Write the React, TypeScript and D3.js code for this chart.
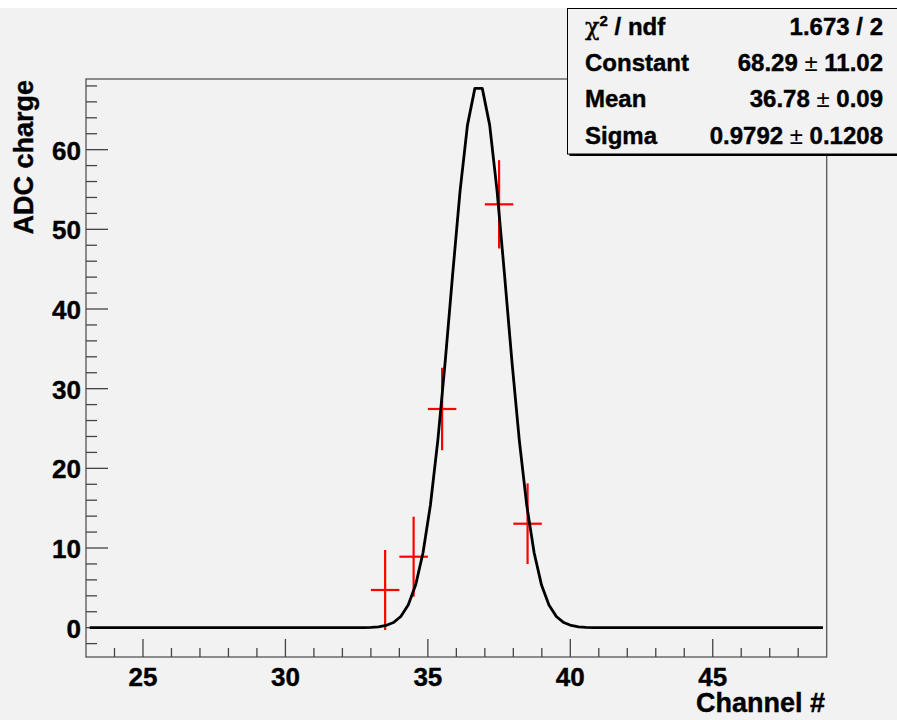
import React from "react";
import * as d3 from "d3";

// ---- data ----
const binCenters = [33.5, 34.5, 35.5, 37.5, 38.5];
const binValues = [4.73, 8.91, 27.45, 53.14, 13.05];
const binErrors = [5.02, 5.02, 5.17, 5.54, 5.06];
const binHalfWidth = 0.5;

// fit parameters (gaus)
const fitConstant = 68.29;
const fitMean = 36.78;
const fitSigma = 0.9792;
const fitStart = 23.13;
const fitStep = 0.26;
const fitNpx = 100;

const xTicks = [25, 30, 35, 40, 45];
const yTicks = [0, 10, 20, 30, 40, 50, 60];

const statsLabels = ["Constant", "Mean", "Sigma"];
const statsValues = ["68.29", "36.78", "0.9792"];
const statsErrors = ["11.02", "0.09", "0.1208"];
const chi2Text = "1.673 / 2";

const W = 897;
const H = 720;
const BG = "#f2f2f2";
const FONT = "'Liberation Sans', Arial, Helvetica, sans-serif";

export default function App() {
  const left = 86, right = 826.7, top = 79, bottom = 657;
  const x = d3.scaleLinear().domain([23, 49]).range([left, right]);
  const y = d3.scaleLinear().domain([-3.68, 68.87]).range([bottom, top]);

  const fitPts: [number, number][] = d3.range(fitNpx).map((i) => {
    const xv = fitStart + i * fitStep;
    const v = fitConstant * Math.exp(-0.5 * ((xv - fitMean) / fitSigma) ** 2);
    return [xv, v];
  });
  const line = d3
    .line<[number, number]>()
    .x((d) => x(d[0]))
    .y((d) => y(d[1]));

  const xMinor = d3.range(23, 50, 1).filter((v) => v > 23 && v < 49 && v % 5 !== 0);
  const yMinor = d3.range(-2, 69, 2).filter((v) => v % 10 !== 0);

  const boxX = 567.5, boxY = 8.5, boxW = 345, boxH = 145.5;
  const rowH = boxH / 4;
  const heavy = { stroke: "#000", strokeWidth: 0.4 } as const;

  return (
    <svg
      width={W}
      height={H}
      style={{ position: "absolute", left: 0, top: 0, display: "block" }}
      fontFamily={FONT}
    >
      <rect x={0} y={0} width={W} height={H} fill="#ffffff" />
      <rect x={0} y={8} width={W} height={H - 8} fill={BG} />

      {/* frame */}
      <rect x={left} y={top} width={right - left} height={bottom - top} fill={BG} stroke="#555" strokeWidth={1.3} />

      {/* y ticks */}
      {yTicks.map((t) => (
        <line key={"ym" + t} x1={left} x2={left + 22} y1={y(t)} y2={y(t)} stroke="#444" strokeWidth={1.3} />
      ))}
      {yMinor.map((t) => (
        <line key={"yn" + t} x1={left} x2={left + 11} y1={y(t)} y2={y(t)} stroke="#444" strokeWidth={1.3} />
      ))}
      {yTicks.map((t) => (
        <text key={"yl" + t} x={81} y={y(t) + 10} textAnchor="end" fontSize={26} fontWeight="bold" fill="#000" {...heavy}>
          {t}
        </text>
      ))}

      {/* x ticks */}
      {xTicks.map((t) => (
        <line key={"xm" + t} x1={x(t)} x2={x(t)} y1={bottom} y2={bottom - 18} stroke="#444" strokeWidth={1.3} />
      ))}
      {xMinor.map((t) => (
        <line key={"xn" + t} x1={x(t)} x2={x(t)} y1={bottom} y2={bottom - 9} stroke="#444" strokeWidth={1.3} />
      ))}
      {xTicks.map((t) => (
        <text key={"xl" + t} x={x(t)} y={685.5} textAnchor="middle" fontSize={26} fontWeight="bold" fill="#000" {...heavy}>
          {t}
        </text>
      ))}

      {/* axis titles */}
      <text x={825} y={711.5} textAnchor="end" fontSize={27} fontWeight="bold" fill="#000" {...heavy}>
        Channel #
      </text>
      <text
        transform="translate(33,80) rotate(-90)"
        textAnchor="end"
        fontSize={27}
        fontWeight="bold"
        fill="#000"
        {...heavy}
      >
        ADC charge
      </text>

      {/* data points with error bars */}
      {binCenters.map((c, i) => (
        <g key={"p" + i} stroke="#ff0000" strokeWidth={2.2}>
          <line x1={x(c - binHalfWidth)} x2={x(c + binHalfWidth)} y1={y(binValues[i])} y2={y(binValues[i])} />
          <line x1={x(c)} x2={x(c)} y1={y(binValues[i] - binErrors[i])} y2={y(binValues[i] + binErrors[i])} />
        </g>
      ))}

      {/* fit curve */}
      <path d={line(fitPts) || ""} fill="none" stroke="#000" strokeWidth={2.8} strokeLinejoin="round" />

      {/* stats box */}
      <rect x={boxX + 2} y={boxY + 2} width={boxW} height={boxH} fill="#000" />
      <rect x={boxX} y={boxY} width={boxW} height={boxH} fill={BG} stroke="#000" strokeWidth={1} />
      <text x={585} y={boxY + 0.5 * rowH + 8} fontSize={24} fontWeight="bold" fill="#000" {...heavy}>
        <tspan fontWeight="normal" fontFamily="'DejaVu Serif', 'Liberation Serif', serif">χ</tspan>
        <tspan fontSize={15} dy={-9}>2</tspan>
        <tspan dy={9}> / ndf</tspan>
      </text>
      <text x={883} y={boxY + 0.5 * rowH + 8} textAnchor="end" fontSize={24} fontWeight="bold" fill="#000" {...heavy}>
        {chi2Text}
      </text>
      {statsLabels.map((lab, i) => {
        const by = boxY + (i + 1.5) * rowH + 8;
        return (
          <g key={"s" + i}>
            <text x={585} y={by} fontSize={24} fontWeight="bold" fill="#000" {...heavy}>
              {lab}
            </text>
            <text x={883} y={by} textAnchor="end" fontSize={24} fontWeight="bold" fill="#000" {...heavy}>
              {statsValues[i]}
              <tspan fontWeight="normal" strokeWidth={0}> ± </tspan>
              {statsErrors[i]}
            </text>
          </g>
        );
      })}
    </svg>
  );
}
